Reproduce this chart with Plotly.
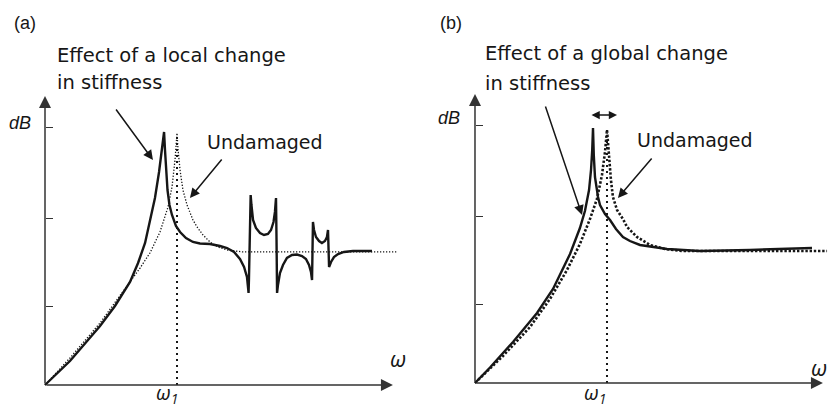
import plotly.graph_objects as go

# ---------------- data (frequency in units of omega_1, amplitude in dB units) -------------
omega1 = 1.0

# Panel (a): local change in stiffness
a_dmg_w = [0, 0.189, 0.417, 0.530, 0.644, 0.705, 0.758, 0.795, 0.833, 0.864, 0.886, 0.902,
           0.909, 0.917, 0.928, 0.943, 0.962, 0.992, 1.023, 1.068, 1.121, 1.174, 1.250,
           1.326, 1.379, 1.432, 1.477, 1.508, 1.530, 1.540, 1.542, 1.545, 1.558,
           1.564, 1.576, 1.598, 1.629, 1.659, 1.689, 1.712, 1.731, 1.742, 1.750, 1.754,
           1.758, 1.765, 1.780, 1.803, 1.833, 1.871, 1.909, 1.947, 1.977, 2.000, 2.015,
           2.023, 2.027, 2.030, 2.038, 2.053, 2.076, 2.098, 2.121, 2.136, 2.144, 2.148,
           2.152, 2.167, 2.189, 2.220, 2.265, 2.333, 2.477]
a_dmg_db = [0, 2.79, 6.86, 9.19, 11.98, 14.19, 16.51, 18.95, 21.74, 24.77, 27.33, 29.42,
            27.33, 25.00, 22.67, 20.93, 19.77, 18.49, 17.79, 17.09, 16.63, 16.45, 16.40,
            16.16, 15.93, 15.47, 14.65, 13.72, 12.56, 11.05, 10.70, 12.21, 22.09,
            20.93, 19.19, 18.26, 17.67, 17.44, 17.56, 18.02, 18.95, 20.12, 21.74, 16.86,
            10.70, 11.63, 13.02, 13.95, 14.77, 15.12, 15.17, 15.00, 14.65, 13.95, 13.14,
            12.21, 15.70, 18.95, 18.02, 17.21, 16.74, 16.51, 16.74, 17.21, 18.02, 15.70,
            13.72, 14.30, 14.88, 15.23, 15.47, 15.58, 15.58]

a_und_w = [0, 0.189, 0.417, 0.644, 0.720, 0.795, 0.871, 0.932, 0.962, 0.985, 1.000,
           1.008, 1.023, 1.045, 1.076, 1.121, 1.152, 1.197, 1.250, 1.311, 1.379, 1.500, 2.667]
a_und_db = [0, 3.14, 7.21, 11.98, 13.60, 15.35, 17.79, 20.70, 23.02, 26.16, 29.30,
            27.33, 25.00, 22.67, 20.93, 19.19, 18.37, 17.44, 16.63, 16.05, 15.70, 15.47, 15.47]

# Panel (b): global change in stiffness
b_dmg_w = [0, 0.114, 0.288, 0.470, 0.591, 0.720, 0.795, 0.833, 0.864, 0.879, 0.888, 0.894,
           0.900, 0.909, 0.932, 0.947, 0.985, 1.023, 1.068, 1.121, 1.174, 1.250, 1.455,
           1.705, 2.083, 2.553]
b_dmg_db = [0, 1.80, 4.77, 8.14, 10.93, 15.00, 18.02, 20.00, 22.44, 24.77, 27.09, 29.65,
            26.50, 23.95, 21.63, 20.70, 19.65, 18.95, 17.91, 16.98, 16.51, 16.05, 15.58,
            15.35, 15.47, 15.70]

b_und_w = [0, 0.212, 0.417, 0.568, 0.697, 0.795, 0.871, 0.924, 0.962, 0.985, 1.000,
           1.015, 1.030, 1.045, 1.076, 1.121, 1.152, 1.227, 1.326, 1.439, 1.576, 2.667]
b_und_db = [0, 3.14, 6.51, 9.77, 13.14, 16.16, 19.07, 21.40, 24.19, 26.86, 29.42,
            25.93, 23.60, 21.63, 20.12, 19.07, 18.14, 16.98, 16.05, 15.58, 15.35, 15.35]

ytick_vals = [9.1, 19.35, 30.0]
a_marker_top = 29.3
b_marker_top = 29.42

# ---------------- figure -------------
INK = "#161616"
TXT_FONT = "DejaVu Sans, Open Sans, sans-serif"

fig = go.Figure()

def add_panel(xa, ya, dmg_w, dmg_db, und_w, und_db, top, und_width, und_dash):
    fig.add_trace(go.Scatter(x=und_w, y=und_db, mode="lines", xaxis=xa, yaxis=ya,
                             line=dict(color=INK, width=und_width, dash=und_dash),
                             hoverinfo="skip", showlegend=False))
    fig.add_trace(go.Scatter(x=[omega1, omega1], y=[0, top], mode="lines", xaxis=xa, yaxis=ya,
                             line=dict(color=INK, width=2, dash="2px,4px"),
                             hoverinfo="skip", showlegend=False))
    fig.add_trace(go.Scatter(x=dmg_w, y=dmg_db, mode="lines", xaxis=xa, yaxis=ya,
                             line=dict(color=INK, width=2.4),
                             hoverinfo="skip", showlegend=False))

add_panel("x", "y", a_dmg_w, a_dmg_db, a_und_w, a_und_db, a_marker_top, 1.3, "1.3px,1.7px")
add_panel("x2", "y2", b_dmg_w, b_dmg_db, b_und_w, b_und_db, b_marker_top, 2.6, "2.4px,1.8px")

ann = []

def txt(xr, yr, x, y, s, size=19.5, family=TXT_FONT, xanchor="left"):
    ann.append(dict(xref=xr, yref=yr, x=x, y=y, text=s, showarrow=False,
                    xanchor=xanchor, yanchor="middle",
                    font=dict(family=family, size=size, color=INK)))

def arrow(xr, yr, x, y, ax, ay, width=1.5, size=1.3, side="end", color=INK):
    ann.append(dict(xref=xr, yref=yr, axref=xr, ayref=yr, x=x, y=y, ax=ax, ay=ay,
                    text="", showarrow=True, arrowhead=2, arrowsize=size,
                    arrowwidth=width, arrowcolor=color, arrowside=side))

# axes arrows
for xr, yr in (("x", "y"), ("x2", "y2")):
    arrow(xr, yr, 2.636, 0, 0, 0, width=1.5, size=1.6, color="#333")
    arrow(xr, yr, 0, 33.6, 0, 0, width=1.5, size=1.6, color="#333")

OMEGA_FONT = "Open Sans, sans-serif"

# panel (a) texts
txt("x", "y", -0.25, 42.09, "(a)", size=18, family="Liberation Sans, Arial")
txt("x", "y", 0.076, 38.37, "Effect of a local change")
txt("x", "y", 0.076, 35.12, "in stiffness")
txt("x", "y", 1.212, 28.26, "Undamaged", size=19)
txt("x", "y", -0.091, 30.47, "<i>dB</i>", size=18, family="Liberation Sans, Arial", xanchor="right")
txt("x", "y", 2.598, 3.14, "<i>ω</i>", size=22, family=OMEGA_FONT)
txt("x", "y", 0.924, -0.95, "<i>ω<sub>1</sub></i>", size=20, family=OMEGA_FONT, xanchor="center")
arrow("x", "y", 0.818, 26.16, 0.530, 32.21)
arrow("x", "y", 1.098, 21.74, 1.348, 26.40)

# panel (b) texts
txt("x2", "y2", -0.28, 41.86, "(b)", size=18, family="Liberation Sans, Arial")
txt("x2", "y2", 0.061, 38.37, "Effect of a global change")
txt("x2", "y2", 0.061, 34.88, "in stiffness")
txt("x2", "y2", 1.212, 28.26, "Undamaged", size=19)
txt("x2", "y2", -0.098, 30.81, "<i>dB</i>", size=18, family="Liberation Sans, Arial", xanchor="right")
txt("x2", "y2", 2.685, 1.86, "<i>ω</i>", size=22, family=OMEGA_FONT, xanchor="right")
txt("x2", "y2", 0.909, -1.18, "<i>ω<sub>1</sub></i>", size=20, family=OMEGA_FONT, xanchor="center")
arrow("x2", "y2", 0.811, 19.53, 0.530, 32.33)
arrow("x2", "y2", 1.083, 21.51, 1.348, 26.28)
arrow("x2", "y2", 1.076, 31.16, 0.871, 31.16, size=1.1, side="end+start")

xa_common = dict(showgrid=False, zeroline=False, showline=False, ticks="",
                 showticklabels=False, fixedrange=True)
ya_common = dict(showgrid=False, zeroline=False, showline=False, ticks="inside",
                 ticklen=7, tickwidth=1, tickcolor="#333", tickvals=ytick_vals,
                 showticklabels=False, fixedrange=True, anchor="free")

fig.update_layout(
    width=831, height=409,
    margin=dict(l=0, r=0, t=0, b=0),
    paper_bgcolor="white", plot_bgcolor="rgba(0,0,0,0)",
    showlegend=False,
    xaxis=dict(domain=[0, 0.4994], range=[-0.3409, 2.803], **xa_common),
    yaxis=dict(domain=[0, 1], range=[-2.791, 44.767], position=45 / 831, **ya_common),
    xaxis2=dict(domain=[0.4994, 1], range=[-0.4545, 2.697], anchor="y2", **xa_common),
    yaxis2=dict(domain=[0, 1], range=[-3.023, 44.535], position=475 / 831, **ya_common),
    annotations=ann,
)

fig.write_html("out.html")
